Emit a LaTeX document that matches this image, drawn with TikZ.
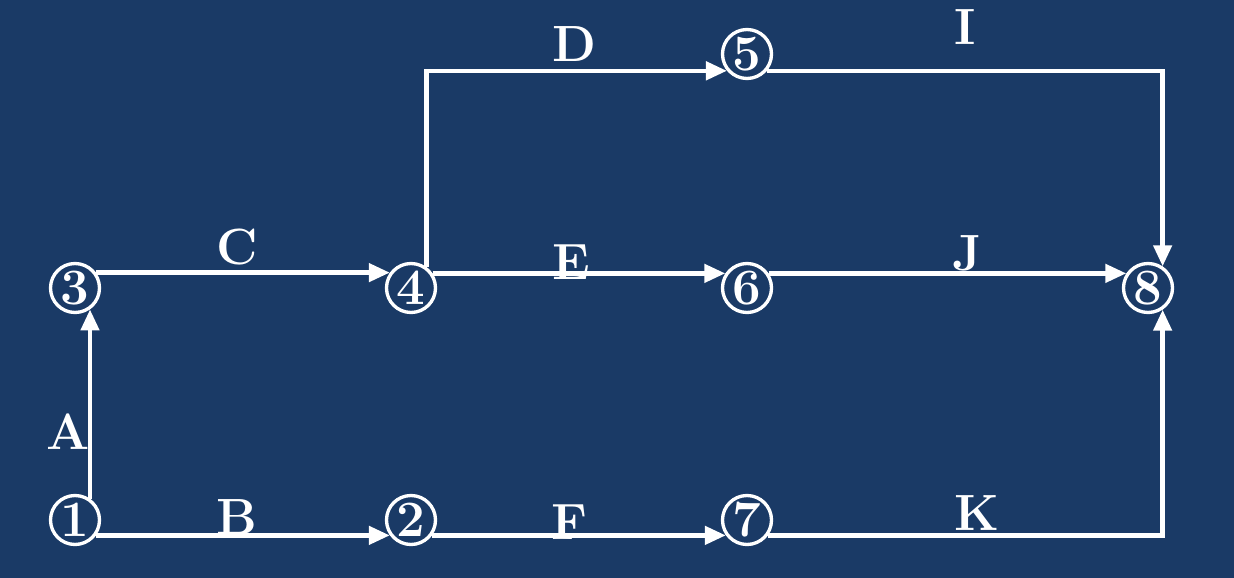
\documentclass[tikz,border=0pt]{standalone}
\usetikzlibrary{arrows.meta}
\definecolor{bgblue}{RGB}{26,58,102}
\begin{document}
\begin{tikzpicture}[x=0.02cm, y=-0.02cm,
		event/.style = {shape=circle, draw=white, line width=1.9pt,
			minimum size=0.98cm, inner sep=0pt, text=white,
			font=\fontsize{29}{31}\selectfont\bfseries},
		act/.style = {draw=white, line width=2.6pt,
			-{Triangle[length=0.42cm,width=0.36cm]}},
		lab/.style = {text=white, inner sep=0pt,
			font=\fontsize{29}{31}\selectfont\bfseries}]
	\fill[bgblue] (0,0) rectangle (1234,578);
	\useasboundingbox (0,0) rectangle (1234,578);
	% events
	\node[event] (e1) at (75,520) {1};
	\node[event] (e2) at (411,520) {2};
	\node[event] (e3) at (75,288) {3};
	\node[event] (e4) at (411,288) {4};
	\node[event] (e5) at (747,54) {5};
	\node[event] (e6) at (747,288) {6};
	\node[event] (e7) at (747,520) {7};
	\node[event] (e8) at (1148,288) {8};
	% activities
	\draw[act] (e1.55) -- (e3.-55);
	\draw[act] (e1.-36) -- (e2.-144);
	\draw[act] (e3.36) -- (e4.144);
	\draw[act] (e4.54) |- (e5.-140);
	\draw[act] (e4.34) -- (e6.146);
	\draw[act] (e2.-36) -- (e7.-144);
	\draw[act] (e5.-40) -| (e8.56);
	\draw[act] (e6.34) -- (e8.146);
	\draw[act] (e7.-36) -| (e8.-56);
	% labels
	\node[lab] (lA) at (68,432) {A};
	\node[lab] (lB) at (237,517) {B};
	\node[lab] (lC) at (237,247) {C};
	\node[lab] (lD) at (574,44) {D};
	\node[lab] (lE) at (571,262) {E};
	\node[lab] (lF) at (570,522) {F};
	\node[lab] (lI) at (965,27) {I};
	\node[lab] (lJ) at (967,253) {J};
	\node[lab] (lK) at (977,513) {K};
\end{tikzpicture}
\end{document}
